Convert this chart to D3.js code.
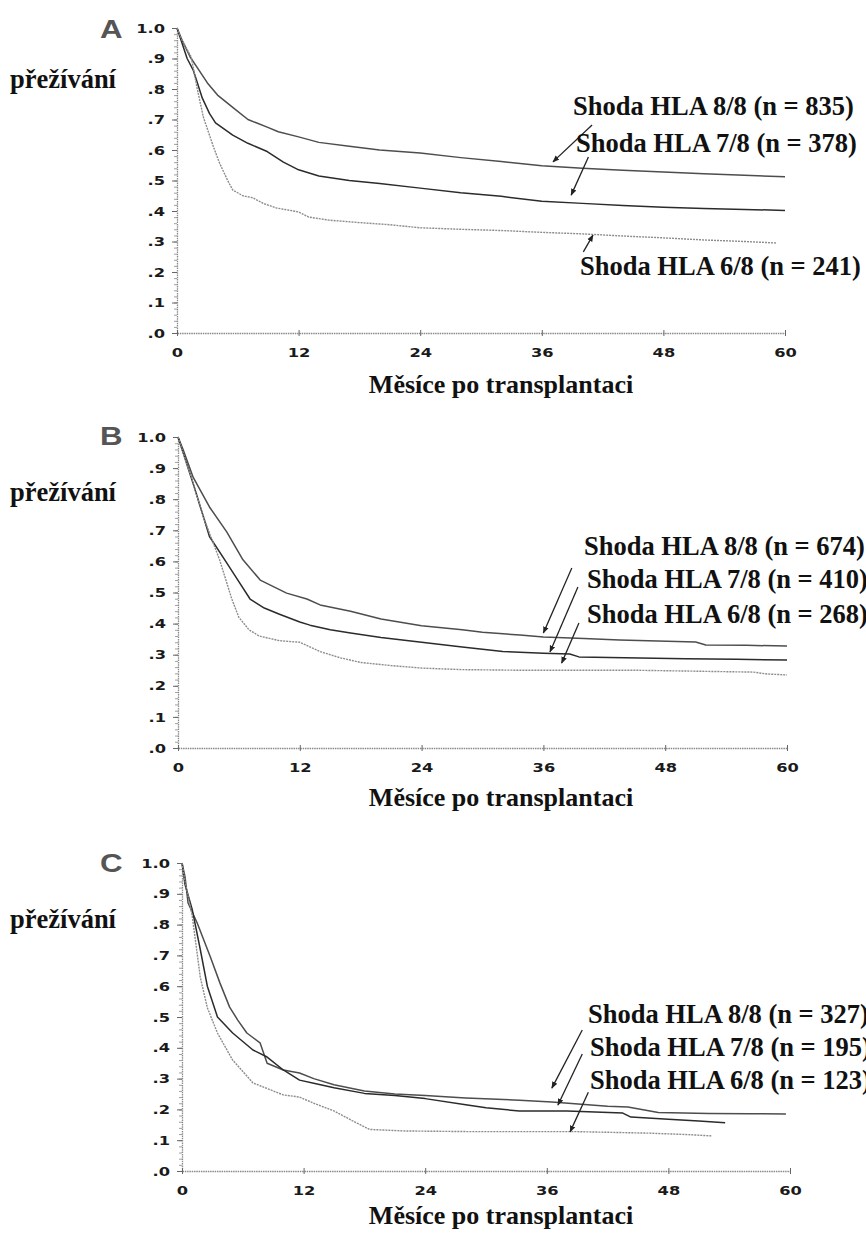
<!DOCTYPE html>
<html>
<head>
<meta charset="utf-8">
<script src="https://cdn.jsdelivr.net/npm/d3@7"></script>
<style>
  body { margin: 0; background: #fff; }
  svg { display: block; }
</style>
</head>
<body>
<svg id="chart" width="866" height="1234"></svg>
<script>
// tick values and labels
const xTicks = [0, 12, 24, 36, 48, 60];
const yTicks = [0, 0.1, 0.2, 0.3, 0.4, 0.5, 0.6, 0.7, 0.8, 0.9, 1.0];
const yTickLabels = [".0", ".1", ".2", ".3", ".4", ".5", ".6", ".7", ".8", ".9", "1.0"];
const panelLetters = ["A", "B", "C"];
const yTitle = "přežívání";
const xTitle = "Měsíce po transplantaci";

// survival curves [month, survival]
const a88 = [[0,1],[0.5,0.96],[1.3,0.905],[2,0.87],[3,0.82],[4,0.78],[5.5,0.74],[7,0.7],[8.9,0.675],[10,0.66],[12,0.643],[14,0.625],[17,0.612],[20,0.6],[24,0.59],[28,0.575],[32,0.562],[36,0.548],[40,0.54],[44,0.534],[48,0.528],[52,0.522],[56,0.517],[60,0.512]];
const a78 = [[0,1],[0.5,0.95],[1,0.9],[1.6,0.862],[2.5,0.77],[3.2,0.72],[3.8,0.689],[5.5,0.649],[7,0.622],[8.9,0.595],[10.5,0.56],[12,0.535],[14,0.515],[17,0.5],[20,0.49],[24,0.475],[28,0.46],[32,0.448],[36,0.432],[40,0.425],[44,0.418],[48,0.412],[52,0.408],[56,0.405],[60,0.402]];
const a68 = [[0,1],[0.5,0.96],[1.4,0.905],[2,0.8],[2.6,0.708],[3.6,0.61],[4.2,0.557],[5,0.5],[5.5,0.469],[6.5,0.45],[7.5,0.443],[8.5,0.425],[9.8,0.41],[12,0.397],[13,0.38],[15,0.37],[18,0.362],[21,0.355],[24,0.345],[28,0.34],[32,0.336],[36,0.33],[40,0.325],[44,0.318],[48,0.312],[52,0.305],[56,0.3],[59.2,0.295]];

const b88 = [[0,1],[0.5,0.96],[1.5,0.87],[3.1,0.775],[4.8,0.695],[6.4,0.605],[8.1,0.54],[10.7,0.498],[12.7,0.479],[14,0.46],[17,0.44],[20,0.415],[24,0.393],[28,0.38],[30,0.372],[33.7,0.363],[36,0.357],[40,0.352],[43.5,0.347],[51,0.341],[52,0.331],[56,0.33],[60,0.328]];
const b78 = [[0,1],[0.5,0.95],[1.5,0.85],[3.1,0.68],[4.8,0.595],[5.5,0.56],[7.1,0.479],[8.5,0.45],[10,0.43],[12,0.405],[13,0.395],[15,0.38],[17,0.37],[20,0.355],[24,0.34],[28,0.325],[32,0.31],[36,0.305],[38.6,0.302],[39.5,0.293],[44,0.29],[50,0.287],[55,0.285],[60,0.283]];
const b68 = [[0,1],[0.5,0.95],[1.5,0.85],[2.5,0.743],[4.1,0.605],[5.3,0.479],[6,0.42],[7,0.38],[8,0.36],[10,0.345],[12,0.34],[14,0.31],[16,0.29],[18,0.275],[21,0.265],[24,0.257],[28,0.252],[33.7,0.25],[45,0.25],[49,0.248],[56.7,0.244],[58,0.238],[60,0.235]];

const c88 = [[0,1],[0.3,0.955],[0.6,0.87],[1.5,0.805],[2.8,0.695],[3.75,0.61],[4.7,0.532],[5.5,0.49],[6.4,0.448],[7.7,0.416],[8.4,0.35],[10,0.328],[11.6,0.318],[13,0.3],[15,0.28],[18,0.26],[21,0.25],[24,0.245],[28,0.237],[33.3,0.23],[36.5,0.224],[42,0.21],[44,0.208],[47,0.19],[52,0.187],[56,0.186],[59.6,0.185]];
const c78 = [[0,1],[0.3,0.93],[1,0.85],[1.8,0.72],[2.5,0.6],[3.5,0.5],[5,0.448],[7,0.393],[8.4,0.37],[10,0.328],[11.6,0.295],[13,0.285],[15,0.27],[18,0.252],[21,0.245],[24,0.235],[28,0.215],[30,0.205],[33.3,0.195],[38,0.195],[43.5,0.188],[44.3,0.175],[48,0.168],[51,0.162],[53.6,0.157]];
const c68 = [[0,1],[0.3,0.94],[1,0.83],[1.8,0.63],[2.5,0.53],[3.5,0.448],[5,0.36],[7,0.286],[10,0.247],[11.6,0.24],[13,0.22],[15,0.195],[17,0.16],[18.5,0.135],[22,0.13],[28,0.128],[38.6,0.128],[46,0.123],[50,0.118],[52.3,0.114]];

const aLabels = ["Shoda HLA 8/8 (n = 835)", "Shoda HLA 7/8 (n = 378)", "Shoda HLA 6/8 (n = 241)"];
const bLabels = ["Shoda HLA 8/8 (n = 674)", "Shoda HLA 7/8 (n = 410)", "Shoda HLA 6/8 (n = 268)"];
const cLabels = ["Shoda HLA 8/8 (n = 327)", "Shoda HLA 7/8 (n = 195)", "Shoda HLA 6/8 (n = 123)"];

// arrows [fromMonth, fromSurv, toMonth, toSurv]
const aArrows = [[40.96,0.682,37.1,0.561],[40.6,0.577,38.9,0.452],[40.1,0.266,41.05,0.321]];
const bArrows = [[38.8,0.579,36.0,0.37],[39.4,0.518,36.65,0.309],[39.5,0.402,37.8,0.273]];
const cArrows = [[39.5,0.458,36.5,0.269],[39.5,0.38,37.1,0.214],[40.1,0.256,38.3,0.127]];

// line styles: 8/8, 7/8, 6/8
const lineStyles = [
  { stroke: "#4d4d4d", dash: null, width: 1.5 },
  { stroke: "#2b2b2b", dash: null, width: 1.5 },
  { stroke: "#8c8c8c", dash: "2,1", width: 1.4 }
];

const panels = [
  { letter: panelLetters[0], series: [a88, a78, a68], labels: aLabels, arrows: aArrows,
    x0: 177, x1: 785, yTop: 28, yBot: 333, letterY: 38, yTitleY: 88, xTitleY: 393,
    labelPos: [[573, 115], [576, 152], [580, 275]] },
  { letter: panelLetters[1], series: [b88, b78, b68], labels: bLabels, arrows: bArrows,
    x0: 178, x1: 787, yTop: 437, yBot: 748, letterY: 445, yTitleY: 501, xTitleY: 806,
    labelPos: [[584, 555], [587, 588], [587, 623]] },
  { letter: panelLetters[2], series: [c88, c78, c68], labels: cLabels, arrows: cArrows,
    x0: 182, x1: 790, yTop: 863, yBot: 1171, letterY: 872, yTitleY: 928, xTitleY: 1224,
    labelPos: [[588, 1023], [590, 1056], [590, 1089]] }
];

const svg = d3.select("#chart");

svg.append("defs").append("marker")
  .attr("id", "arrowhead")
  .attr("viewBox", "0 0 10 10")
  .attr("refX", 9)
  .attr("refY", 5)
  .attr("markerWidth", 7)
  .attr("markerHeight", 7)
  .attr("markerUnits", "userSpaceOnUse")
  .attr("orient", "auto")
  .append("path")
  .attr("d", "M0,1 L10,5 L0,9 z")
  .attr("fill", "#222");

const tickScale = 1.25;

function drawPanel(p) {
  const x = d3.scaleLinear().domain([0, 60]).range([p.x0, p.x1]);
  const y = d3.scaleLinear().domain([0, 1]).range([p.yBot, p.yTop]);
  const g = svg.append("g");

  // minor ticks on the y axis
  g.append("g")
    .attr("transform", `translate(${p.x0},0)`)
    .call(d3.axisLeft(y).tickValues(d3.range(0, 51).map(i => i / 50)).tickSize(3).tickFormat(""))
    .call(a => a.select(".domain").remove())
    .call(a => a.selectAll("line").attr("stroke", "#888").attr("stroke-width", 0.8));

  const yAxis = g.append("g")
    .attr("transform", `translate(${p.x0},0)`)
    .call(d3.axisLeft(y).tickValues(yTicks).tickSize(5).tickSizeOuter(0)
      .tickFormat((d, i) => yTickLabels[i]));

  const xAxis = g.append("g")
    .attr("transform", `translate(0,${p.yBot})`)
    .call(d3.axisBottom(x).tickValues(xTicks).tickSize(3).tickSizeOuter(0));

  [yAxis, xAxis].forEach(a => {
    a.select(".domain").attr("stroke", "#8a8a8a").attr("stroke-width", 1.3).attr("stroke-dasharray", "1.5,0.8");
    a.selectAll(".tick line").attr("stroke", "#666");
    a.selectAll("text")
      .attr("fill", "#1a1a1a")
      .style("font-family", "'DejaVu Sans', Verdana, sans-serif")
      .style("font-weight", "bold")
      .style("font-size", "13px");
  });
  xAxis.selectAll(".tick line").attr("y1", -3);
  yAxis.selectAll("text")
    .attr("x", -12 / tickScale)
    .attr("transform", `scale(${tickScale},1)`);
  xAxis.selectAll("text")
    .attr("y", 24)
    .attr("dy", null)
    .attr("transform", `scale(${tickScale},1)`);

  // curves
  const line = d3.line().x(d => x(d[0])).y(d => y(d[1]));
  g.selectAll(".curve")
    .data(p.series)
    .join("path")
    .attr("class", "curve")
    .attr("d", line)
    .attr("fill", "none")
    .attr("stroke", (d, i) => lineStyles[i].stroke)
    .attr("stroke-width", (d, i) => lineStyles[i].width)
    .attr("stroke-dasharray", (d, i) => lineStyles[i].dash)
    .attr("stroke-linejoin", "round");

  // arrows
  g.selectAll(".arrow")
    .data(p.arrows)
    .join("line")
    .attr("class", "arrow")
    .attr("x1", d => x(d[0]))
    .attr("y1", d => y(d[1]))
    .attr("x2", d => x(d[2]))
    .attr("y2", d => y(d[3]))
    .attr("stroke", "#222")
    .attr("stroke-width", 1.3)
    .attr("marker-end", "url(#arrowhead)");

  // series labels
  g.selectAll(".series-label")
    .data(p.labels)
    .join("text")
    .attr("class", "series-label")
    .attr("x", (d, i) => p.labelPos[i][0])
    .attr("y", (d, i) => p.labelPos[i][1])
    .attr("fill", "#111")
    .style("font-family", "'Liberation Serif', 'Times New Roman', serif")
    .style("font-weight", "bold")
    .style("font-size", "26.5px")
    .text(d => d);

  // panel letter
  g.append("text")
    .attr("x", 100 / 1.25)
    .attr("y", p.letterY)
    .attr("transform", "scale(1.25,1)")
    .attr("fill", "#555")
    .style("font-family", "'Liberation Sans', Arial, sans-serif")
    .style("font-weight", "bold")
    .style("font-size", "25px")
    .text(p.letter);

  // axis titles
  g.append("text")
    .attr("x", 10)
    .attr("y", p.yTitleY)
    .attr("fill", "#111")
    .style("font-family", "'Liberation Serif', 'Times New Roman', serif")
    .style("font-weight", "bold")
    .style("font-size", "26.5px")
    .text(yTitle);

  g.append("text")
    .attr("x", 501)
    .attr("y", p.xTitleY)
    .attr("text-anchor", "middle")
    .attr("fill", "#111")
    .style("font-family", "'Liberation Serif', 'Times New Roman', serif")
    .style("font-weight", "bold")
    .style("font-size", "26px")
    .text(xTitle);
}

panels.forEach(drawPanel);
</script>
</body>
</html>
